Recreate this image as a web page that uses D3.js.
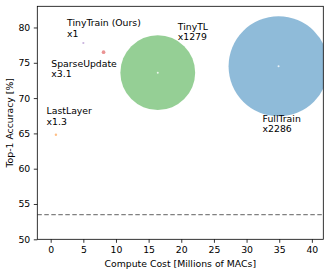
<!DOCTYPE html>
<html>
<head>
<meta charset="utf-8">
<script src="https://cdn.jsdelivr.net/npm/d3@7"></script>
<style>
  body { margin: 0; background: #fff; }
  text { font-family: "DejaVu Sans", sans-serif; fill: #000; }
</style>
</head>
<body>
<div id="chart"></div>
<script>
const methods = ["FullTrain", "LastLayer", "TinyTL", "SparseUpdate", "TinyTrain (Ours)"];
const costs = [34.9, 0.8, 16.4, 8.1, 5.0];
const accuracy = [74.5, 64.8, 73.6, 76.5, 77.8];
const memRatio = [2286, 1.3, 1279, 3.1, 1];
const colors = ["#1f77b4", "#ff7f0e", "#2ca02c", "#d62728", "#9467bd"];
const baseline = 53.5;
const xTicks = [0, 5, 10, 15, 20, 25, 30, 35, 40];
const yTicks = [50, 55, 60, 65, 70, 75, 80];

const W = 332, H = 275;
const m = { top: 6.3, right: 8.7, bottom: 35.7, left: 37.3 };
const w = W - m.left - m.right, h = H - m.top - m.bottom;

const svg = d3.select('#chart').append('svg')
  .attr('width', W).attr('height', H);
svg.append('defs').append('clipPath').attr('id', 'plotclip')
  .append('rect').attr('width', w).attr('height', h);
const g = svg.append('g').attr('transform', 'translate(' + m.left + ',' + m.top + ')');

const x = d3.scaleLinear().domain([-2.05, 41.75]).range([0, w]);
const y = d3.scaleLinear().domain([50, 83]).range([h, 0]);
const r = d3.scaleSqrt().domain([0, 2286]).range([0, 50]);

const data = methods.map((d, i) => ({
  name: d, cost: costs[i], acc: accuracy[i], mem: memRatio[i], color: colors[i]
}));

const plot = g.append('g').attr('clip-path', 'url(#plotclip)');

// baseline
plot.append('line')
  .attr('x1', 0).attr('x2', w)
  .attr('y1', y(baseline)).attr('y2', y(baseline))
  .attr('stroke', '#808080').attr('stroke-width', 1.2)
  .attr('stroke-dasharray', '4.5,2.5');

// bubbles
plot.selectAll('circle.bubble').data(data).enter()
  .append('circle').attr('class', 'bubble')
  .attr('cx', d => x(d.cost)).attr('cy', d => y(d.acc))
  .attr('r', d => Math.max(r(d.mem), 1.1))
  .attr('fill', d => d.color).attr('fill-opacity', 0.5);

// centre dots on big ones
plot.selectAll('circle.dot').data(data.filter(d => d.mem > 100)).enter()
  .append('circle').attr('class', 'dot')
  .attr('cx', d => x(d.cost)).attr('cy', d => y(d.acc))
  .attr('r', 1).attr('fill', '#fff').attr('fill-opacity', 0.8);

// labels: offsets relative to the point, in px
const labelOff = {
  "FullTrain": [-16, 55.5],
  "LastLayer": [-9.3, -20.7],
  "TinyTL": [20, -42.7],
  "SparseUpdate": [-52.3, 14.4],
  "TinyTrain (Ours)": [-16.3, -17]
};
const lab = g.selectAll('text.lab').data(data).enter()
  .append('text').attr('class', 'lab')
  .attr('font-size', '9.3px')
  .attr('x', d => x(d.cost) + labelOff[d.name][0])
  .attr('y', d => y(d.acc) + labelOff[d.name][1]);
lab.append('tspan').text(d => d.name);
lab.append('tspan')
  .attr('x', d => x(d.cost) + labelOff[d.name][0])
  .attr('dy', 10.5)
  .text(d => 'x' + d.mem);

// axes
const xa = g.append('g').attr('transform', 'translate(0,' + h + ')')
  .call(d3.axisBottom(x).tickValues(xTicks).tickSize(3.5).tickPadding(3.5));
const ya = g.append('g')
  .call(d3.axisLeft(y).tickValues(yTicks).tickSize(3.5).tickPadding(3.5));
[xa, ya].forEach(a => {
  a.selectAll('text').attr('font-size', '9.3px').attr('font-family', '"DejaVu Sans", sans-serif');
  a.selectAll('line').attr('stroke', '#000').attr('stroke-width', 0.8);
  a.select('.domain').remove();
});

// frame
g.append('rect').attr('width', w).attr('height', h)
  .attr('fill', 'none').attr('stroke', '#000').attr('stroke-width', 0.8);

svg.append('text')
  .attr('x', m.left + w / 2).attr('y', 267)
  .attr('text-anchor', 'middle').attr('font-size', '9.3px')
  .text('Compute Cost [Millions of MACs]');
svg.append('text')
  .attr('transform', 'translate(12.5,' + (m.top + h / 2) + ') rotate(-90)')
  .attr('text-anchor', 'middle').attr('font-size', '9.3px')
  .text('Top-1 Accuracy [%]');
</script>
</body>
</html>
